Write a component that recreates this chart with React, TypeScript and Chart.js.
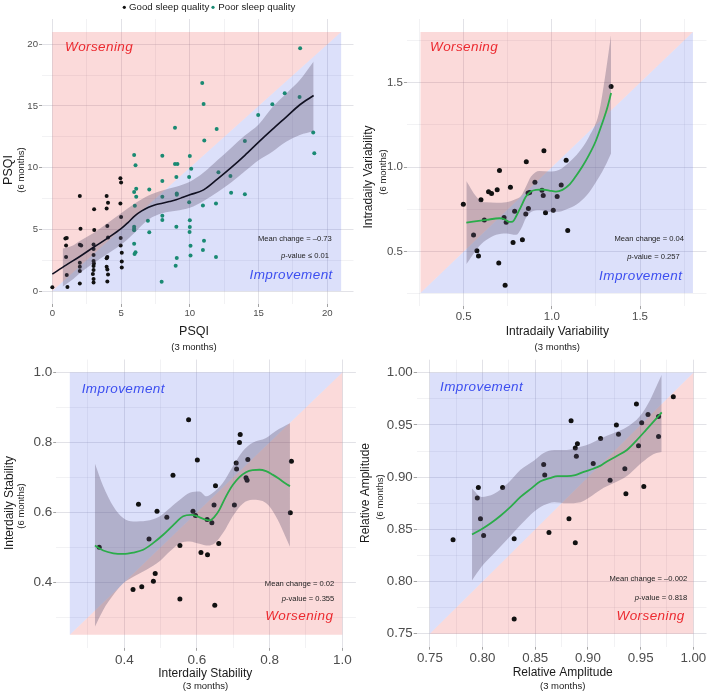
import React, { useEffect, useRef } from "react";
import { Chart, registerables } from "chart.js";
Chart.register(...registerables);

const FONT = "'Liberation Sans', Arial, Helvetica, sans-serif";

// ---------------- Panel A: PSQI ----------------
const psqiGood3m = [0, 0.95, 1.05, 1, 1, 1.05, 1.1, 2, 2.05, 2, 2.1, 2, 2, 2, 2, 3.04, 3.05, 3, 3, 3, 3, 3.02, 3, 3, 2.95, 3, 3, 3.95, 4.05, 3.95, 4, 4.05, 4, 3.95, 3.95, 4, 4.05, 4, 4.95, 5, 4.95, 5, 4.97, 4.97, 5.05, 5.05, 5.05];
const psqiGood6m = [0.3, 4.25, 4.3, 3.7, 2.75, 1.3, 0.32, 7.7, 5.05, 3.75, 3.7, 2.3, 1.97, 1.62, 0.62, 6.62, 4.95, 3.78, 3.4, 2.92, 2.43, 2.24, 2.03, 1.7, 1.38, 0.97, 0.7, 7.7, 7.15, 6.7, 5.27, 4.35, 2.75, 2.65, 1.97, 1.75, 1.35, 0.78, 9.15, 8.8, 7.1, 6.0, 4.3, 3.7, 3.1, 2.4, 1.9];
const psqiPoor3m = [5.95, 6.05, 6.1, 5.95, 6.1, 6, 5.95, 5.95, 5.95, 5.95, 6.05, 5.98, 7.05, 6.95, 7.05, 8, 8, 8, 8, 8, 7.95, 8.92, 8.92, 9.1, 9.02, 9.05, 9.05, 9.02, 9.05, 8.97, 10, 10.1, 9.95, 9.95, 10, 10, 9.98, 10.05, 10.05, 10.9, 11, 11.05, 10.95, 11.03, 10.95, 11.95, 12.08, 11.9, 11.9, 12.95, 13, 14, 14, 14.97, 16, 16.9, 18.02, 17.98, 18.97, 19.05];
const psqiPoor6m = [11.03, 10.2, 8.3, 8.03, 7.65, 6.92, 5.22, 5.05, 4.92, 3.84, 3.14, 3.0, 8.24, 5.7, 4.76, 10.97, 8.92, 7.65, 6.1, 5.76, 0.76, 13.24, 10.3, 10.3, 9.24, 7.9, 7.8, 5.22, 2.68, 2.05, 10.95, 9.92, 9.24, 7.19, 5.73, 5.19, 4.78, 3.68, 2.89, 16.86, 15.17, 12.2, 6.93, 4.08, 3.33, 13.14, 9.62, 7.1, 2.76, 9.33, 7.96, 12.16, 7.84, 14.27, 15.14, 16.03, 19.68, 15.72, 12.86, 11.16];
const psqiFitX = [0, 1, 2, 3, 4, 5, 5.5, 6, 6.5, 7, 7.5, 8, 8.5, 9, 9.5, 10, 11, 12, 13, 14, 15, 16, 17, 18, 19];
const psqiFitY = [1.37, 2.1, 2.8, 3.55, 4.27, 5.05, 5.55, 6.1, 6.5, 6.8, 7.0, 7.12, 7.25, 7.4, 7.6, 7.8, 8.2, 9.07, 10.0, 11.0, 12.07, 13.1, 14.1, 15.1, 15.85];
const psqiBandX = [0.75, 1.5, 2, 3, 4, 5, 6, 7, 8, 9, 10, 11, 12, 13, 14, 15, 16, 17, 18, 19];
const psqiBandHigh = [3.45, 3.7, 4.05, 4.7, 5.5, 6.3, 7.1, 7.75, 8.15, 8.45, 8.85, 9.6, 10.6, 11.6, 12.6, 13.5, 14.9, 16.0, 17.1, 18.6];
const psqiBandLow = [0.35, 0.95, 1.45, 2.25, 3.0, 3.75, 4.75, 5.8, 6.3, 6.5, 6.75, 7.3, 8.0, 8.8, 9.7, 10.6, 11.3, 12.1, 12.65, 12.95];
const psqiLimits = [0, 21];
const psqiTicks = [0, 5, 10, 15, 20];
const psqiTickLabels = ["0", "5", "10", "15", "20"];
const psqiMinor = [2.5, 7.5, 12.5, 17.5];

// ---------------- Panel B: Intradaily variability ----------------
const iv3m = [0.498, 0.556, 0.575, 0.584, 0.598, 0.617, 0.641, 0.658, 0.69, 0.699, 0.703, 0.729, 0.735, 0.741, 0.765, 0.78, 0.789, 0.833, 0.852, 0.855, 0.865, 0.874, 0.867, 0.904, 0.944, 0.951, 0.955, 0.964, 1.008, 1.03, 1.053, 1.081, 1.09, 1.336];
const iv6m = [0.781, 0.599, 0.506, 0.474, 0.808, 0.688, 0.854, 0.844, 0.866, 0.433, 0.98, 0.702, 0.302, 0.674, 0.881, 0.555, 0.739, 0.571, 0.723, 1.032, 0.848, 0.85, 0.755, 0.911, 0.864, 0.832, 1.097, 0.731, 0.745, 0.826, 0.895, 1.041, 0.625, 1.478];
const ivFitX = [0.515, 0.628, 0.703, 0.731, 0.759, 0.778, 0.797, 0.825, 0.853, 0.882, 0.91, 0.947, 0.985, 1.023, 1.06, 1.098, 1.135, 1.173, 1.211, 1.248, 1.286, 1.314, 1.336];
const ivFitY = [0.672, 0.688, 0.698, 0.692, 0.676, 0.678, 0.708, 0.767, 0.826, 0.856, 0.866, 0.868, 0.862, 0.856, 0.866, 0.895, 0.945, 1.004, 1.073, 1.152, 1.261, 1.35, 1.439];
const ivBandX = [0.515, 0.571, 0.6, 0.628, 0.684, 0.741, 0.797, 0.825, 0.853, 0.882, 0.929, 0.985, 1.042, 1.098, 1.154, 1.211, 1.267, 1.304, 1.336];
const ivBandHigh = [0.919, 0.826, 0.796, 0.792, 0.79, 0.793, 0.812, 0.83, 0.885, 0.945, 0.978, 0.975, 0.985, 1.03, 1.09, 1.18, 1.32, 1.55, 1.785];
const ivBandLow = [0.425, 0.51, 0.545, 0.569, 0.6, 0.608, 0.6, 0.635, 0.7, 0.735, 0.745, 0.735, 0.737, 0.757, 0.79, 0.85, 0.94, 1.01, 1.083];
const ivLimits = [0.255, 1.8];
const ivTicks = [0.5, 1.0, 1.5];
const ivTickLabels = ["0.5", "1.0", "1.5"];
const ivMinor = [0.25, 0.75, 1.25, 1.75];

// ---------------- Panel C: Interdaily stability ----------------
const is3m = [0.331, 0.424, 0.439, 0.448, 0.468, 0.48, 0.485, 0.49, 0.517, 0.534, 0.553, 0.553, 0.577, 0.589, 0.596, 0.601, 0.611, 0.629, 0.628, 0.641, 0.647, 0.651, 0.649, 0.66, 0.703, 0.708, 0.709, 0.717, 0.719, 0.735, 0.738, 0.74, 0.86, 0.857];
const is6m = [0.5, 0.379, 0.623, 0.387, 0.524, 0.403, 0.425, 0.603, 0.586, 0.706, 0.505, 0.352, 0.865, 0.603, 0.591, 0.75, 0.485, 0.479, 0.58, 0.57, 0.621, 0.676, 0.334, 0.511, 0.621, 0.741, 0.724, 0.8, 0.823, 0.699, 0.692, 0.751, 0.746, 0.599];
const isFitX = [0.319, 0.342, 0.37, 0.397, 0.425, 0.452, 0.479, 0.507, 0.534, 0.562, 0.584, 0.598, 0.616, 0.635, 0.648, 0.662, 0.68, 0.699, 0.717, 0.735, 0.753, 0.772, 0.79, 0.808, 0.826, 0.845, 0.856];
const isFitY = [0.505, 0.491, 0.483, 0.481, 0.485, 0.493, 0.512, 0.536, 0.563, 0.589, 0.593, 0.59, 0.582, 0.577, 0.587, 0.608, 0.646, 0.679, 0.701, 0.715, 0.721, 0.722, 0.718, 0.708, 0.696, 0.682, 0.675];
const isBandX = [0.319, 0.342, 0.37, 0.397, 0.425, 0.461, 0.498, 0.525, 0.553, 0.58, 0.607, 0.626, 0.644, 0.671, 0.699, 0.726, 0.753, 0.79, 0.817, 0.856];
const isBandHigh = [0.74, 0.675, 0.617, 0.584, 0.574, 0.576, 0.589, 0.612, 0.636, 0.656, 0.66, 0.646, 0.656, 0.684, 0.732, 0.775, 0.799, 0.813, 0.833, 0.855];
const isBandLow = [0.273, 0.321, 0.364, 0.397, 0.416, 0.436, 0.461, 0.488, 0.512, 0.517, 0.51, 0.505, 0.508, 0.54, 0.59, 0.625, 0.636, 0.627, 0.589, 0.502];
const isLimits = [0.25, 1.0];
const isTicks = [0.4, 0.6, 0.8, 1.0];
const isTickLabels = ["0.4", "0.6", "0.8", "1.0"];
const isMinor = [0.3, 0.5, 0.7, 0.9];

// ---------------- Panel D: Relative amplitude ----------------
const ra3m = [0.772, 0.795, 0.796, 0.798, 0.801, 0.819, 0.83, 0.83, 0.858, 0.859, 0.863, 0.882, 0.884, 0.888, 0.888, 0.89, 0.889, 0.905, 0.912, 0.921, 0.927, 0.929, 0.935, 0.936, 0.946, 0.948, 0.951, 0.953, 0.957, 0.967, 0.967, 0.981];
const ra6m = [0.84, 0.88, 0.89, 0.86, 0.844, 0.89, 0.841, 0.764, 0.912, 0.902, 0.847, 0.86, 0.954, 0.837, 0.928, 0.932, 0.92, 0.913, 0.937, 0.897, 0.95, 0.941, 0.908, 0.884, 0.97, 0.93, 0.952, 0.891, 0.96, 0.939, 0.958, 0.977];
const raFitX = [0.79, 0.799, 0.808, 0.817, 0.827, 0.836, 0.846, 0.855, 0.864, 0.871, 0.88, 0.888, 0.896, 0.905, 0.912, 0.918, 0.927, 0.937, 0.946, 0.955, 0.962, 0.97];
const raFitY = [0.845, 0.85, 0.856, 0.863, 0.872, 0.881, 0.889, 0.896, 0.899, 0.901, 0.901, 0.902, 0.905, 0.908, 0.911, 0.915, 0.92, 0.926, 0.935, 0.945, 0.953, 0.962];
const raBandX = [0.79, 0.799, 0.811, 0.824, 0.836, 0.849, 0.858, 0.868, 0.88, 0.893, 0.902, 0.912, 0.924, 0.937, 0.949, 0.959, 0.965, 0.97];
const raBandHigh = [0.889, 0.881, 0.884, 0.894, 0.907, 0.916, 0.923, 0.926, 0.926, 0.929, 0.932, 0.937, 0.942, 0.948, 0.958, 0.974, 0.987, 0.998];
const raBandLow = [0.801, 0.814, 0.827, 0.841, 0.854, 0.867, 0.873, 0.876, 0.875, 0.876, 0.881, 0.888, 0.894, 0.901, 0.912, 0.92, 0.923, 0.924];
const raLimits = [0.75, 1.0];
const raTicks = [0.75, 0.8, 0.85, 0.9, 0.95, 1.0];
const raTickLabels = ["0.75", "0.80", "0.85", "0.90", "0.95", "1.00"];
const raMinor = [0.775, 0.825, 0.875, 0.925, 0.975];

// ---------------- styles ----------------
const PINK = "rgba(236,72,72,0.2)";
const BLUE = "rgba(70,90,230,0.19)";
const BAND = "rgba(92,80,110,0.33)";
const BLACK = "#111111";
const TEAL = "#1a8a73";
const GREEN = "#2bac4a";
const RED_TXT = "#ec2a30";
const BLUE_TXT = "#3d4ff0";
const GRID_MAJOR = "rgba(160,160,175,0.30)";
const GRID_MINOR = "rgba(160,160,175,0.20)";

type Group = { x: number[]; y: number[]; color: string; r: number };
type TextItem = {
  t?: string; x: number; y: number; size?: number; color?: string;
  align?: CanvasTextAlign; rot?: boolean; italic?: boolean; spacing?: number;
  pval?: boolean; dot?: number;
};
interface PanelSpec {
  area: [number, number, number, number];
  xr: [number, number]; yr: [number, number];
  xMajor: number[]; xLabels: string[]; xMinor: number[];
  yMajor: number[]; yLabels: string[]; yMinor: number[];
  tickSize: number;
  limits: number[];
  upperLeft: string; lowerRight: string;
  groups: Group[];
  fitX: number[]; fitY: number[]; fitColor: string; fitWidth: number;
  bandX: number[]; bandLow: number[]; bandHigh: number[];
  texts: TextItem[];
}

const PANELS: PanelSpec[] = [
  {
    area: [42, 19, 353.5, 304], xr: [-0.75, 21.9], yr: [-1.05, 22.05],
    xMajor: psqiTicks, xLabels: psqiTickLabels, xMinor: psqiMinor,
    yMajor: psqiTicks, yLabels: psqiTickLabels, yMinor: psqiMinor,
    tickSize: 9.6, limits: psqiLimits, upperLeft: PINK, lowerRight: BLUE,
    groups: [
      { x: psqiGood3m, y: psqiGood6m, color: BLACK, r: 2.0 },
      { x: psqiPoor3m, y: psqiPoor6m, color: TEAL, r: 2.0 },
    ],
    fitX: psqiFitX, fitY: psqiFitY, fitColor: "#111122", fitWidth: 1.6,
    bandX: psqiBandX, bandLow: psqiBandLow, bandHigh: psqiBandHigh,
    texts: [
      { dot: 1.6, x: 124.3, y: 7.3, color: BLACK },
      { t: "Good sleep quality", x: 129, y: 7.3, size: 9.7, align: "left", color: "#222" },
      { dot: 1.6, x: 213, y: 7.3, color: TEAL },
      { t: "Poor sleep quality", x: 218.3, y: 7.3, size: 9.7, align: "left", color: "#222" },
      { t: "PSQI", x: 194, y: 332, size: 12.5 },
      { t: "(3 months)", x: 194, y: 347.5, size: 9.5 },
      { t: "PSQI", x: 9, y: 170, size: 12.5, rot: true },
      { t: "(6 months)", x: 21, y: 170, size: 9.5, rot: true },
      { t: "Worsening", x: 65, y: 47.3, size: 13.5, italic: true, spacing: 0.4, color: RED_TXT, align: "left" },
      { t: "Improvement", x: 332.7, y: 275.7, size: 13.5, italic: true, spacing: 0.4, color: BLUE_TXT, align: "right" },
      { t: "Mean change = \u20130.73", x: 331.7, y: 239, size: 7.6, align: "right", color: "#222" },
      { t: "-value \u2264 0.01", x: 329, y: 256, size: 7.6, pval: true, color: "#222" },
    ],
  },
  {
    area: [406.9, 19, 708.1, 306.1], xr: [0.178, 1.877], yr: [0.178, 1.877],
    xMajor: ivTicks, xLabels: ivTickLabels, xMinor: ivMinor,
    yMajor: ivTicks, yLabels: ivTickLabels, yMinor: ivMinor,
    tickSize: 11.5, limits: ivLimits, upperLeft: PINK, lowerRight: BLUE,
    groups: [{ x: iv3m, y: iv6m, color: BLACK, r: 2.5 }],
    fitX: ivFitX, fitY: ivFitY, fitColor: GREEN, fitWidth: 1.8,
    bandX: ivBandX, bandLow: ivBandLow, bandHigh: ivBandHigh,
    texts: [
      { t: "Intradaily Variability", x: 557.3, y: 332, size: 12 },
      { t: "(3 months)", x: 557.3, y: 347.5, size: 9.5 },
      { t: "Intradaily Variability", x: 369, y: 177, size: 12, rot: true },
      { t: "(6 months)", x: 383, y: 172, size: 9.5, rot: true },
      { t: "Worsening", x: 430, y: 47.7, size: 13.5, italic: true, spacing: 0.4, color: RED_TXT, align: "left" },
      { t: "Improvement", x: 682.3, y: 276.7, size: 13.5, italic: true, spacing: 0.4, color: BLUE_TXT, align: "right" },
      { t: "Mean change = 0.04", x: 684, y: 239.3, size: 7.6, align: "right", color: "#222" },
      { t: "-value = 0.257", x: 679.7, y: 256.7, size: 7.6, pval: true, color: "#222" },
    ],
  },
  {
    area: [56.2, 359.5, 355.9, 647.8], xr: [0.2125, 1.0375], yr: [0.2125, 1.0375],
    xMajor: isTicks, xLabels: isTickLabels, xMinor: isMinor,
    yMajor: isTicks, yLabels: isTickLabels, yMinor: isMinor,
    tickSize: 13.5, limits: isLimits, upperLeft: BLUE, lowerRight: PINK,
    groups: [{ x: is3m, y: is6m, color: BLACK, r: 2.5 }],
    fitX: isFitX, fitY: isFitY, fitColor: GREEN, fitWidth: 1.8,
    bandX: isBandX, bandLow: isBandLow, bandHigh: isBandHigh,
    texts: [
      { t: "Interdaily Stability", x: 205.3, y: 673.3, size: 12 },
      { t: "(3 months)", x: 205.5, y: 686.7, size: 9.5 },
      { t: "Interdaily Stability", x: 10, y: 503, size: 12, rot: true },
      { t: "(6 months)", x: 21, y: 506, size: 9.5, rot: true },
      { t: "Improvement", x: 81.7, y: 389.3, size: 13.5, italic: true, spacing: 0.4, color: BLUE_TXT, align: "left" },
      { t: "Worsening", x: 333.3, y: 616.7, size: 13.5, italic: true, spacing: 0.4, color: RED_TXT, align: "right" },
      { t: "Mean change = 0.02", x: 334.3, y: 584.3, size: 7.6, align: "right", color: "#222" },
      { t: "-value = 0.355", x: 334.3, y: 598.7, size: 7.6, pval: true, color: "#222" },
    ],
  },
  {
    area: [416.7, 359.7, 709, 646.7], xr: [0.7375, 1.0125], yr: [0.7375, 1.0125],
    xMajor: raTicks, xLabels: raTickLabels, xMinor: raMinor,
    yMajor: raTicks, yLabels: raTickLabels, yMinor: raMinor,
    tickSize: 13.3, limits: raLimits, upperLeft: BLUE, lowerRight: PINK,
    groups: [{ x: ra3m, y: ra6m, color: BLACK, r: 2.5 }],
    fitX: raFitX, fitY: raFitY, fitColor: GREEN, fitWidth: 1.8,
    bandX: raBandX, bandLow: raBandLow, bandHigh: raBandHigh,
    texts: [
      { t: "Relative Amplitude", x: 562.7, y: 673, size: 12 },
      { t: "(3 months)", x: 562.7, y: 686, size: 9.5 },
      { t: "Relative Amplitude", x: 365.7, y: 493, size: 12, rot: true },
      { t: "(6 months)", x: 380.7, y: 497, size: 9.5, rot: true },
      { t: "Improvement", x: 440, y: 387.7, size: 13.5, italic: true, spacing: 0.4, color: BLUE_TXT, align: "left" },
      { t: "Worsening", x: 684.7, y: 616, size: 13.5, italic: true, spacing: 0.4, color: RED_TXT, align: "right" },
      { t: "Mean change = \u20130.002", x: 687.3, y: 579.3, size: 7.6, align: "right", color: "#222" },
      { t: "-value = 0.818", x: 687.3, y: 598.3, size: 7.6, pval: true, color: "#222" },
    ],
  },
];

const CW = 709, CH = 695, YW = 40, XH = 24;

function textPlugin(items: TextItem[]) {
  return {
    id: "panelText",
    afterDraw(chart: any) {
      const ctx: CanvasRenderingContext2D = chart.ctx;
      for (const it of items) {
        ctx.save();
        ctx.fillStyle = it.color || "#1a1a1a";
        if (it.dot) {
          ctx.beginPath();
          ctx.arc(it.x, it.y, it.dot, 0, Math.PI * 2);
          ctx.fill();
          ctx.restore();
          continue;
        }
        const size = it.size || 10;
        ctx.font = `${it.italic ? "italic " : ""}${size}px ${FONT}`;
        ctx.textBaseline = "middle";
        ctx.textAlign = it.align || "center";
        if (it.spacing) (ctx as any).letterSpacing = it.spacing + "px";
        if (it.rot) {
          ctx.translate(it.x, it.y);
          ctx.rotate(-Math.PI / 2);
          ctx.fillText(it.t || "", 0, 0);
        } else if (it.pval) {
          ctx.textAlign = "left";
          const rest = it.t || "";
          const wRest = ctx.measureText(rest).width;
          ctx.font = `italic ${size}px ${FONT}`;
          const wp = ctx.measureText("p").width;
          ctx.fillText("p", it.x - wRest - wp, it.y);
          ctx.font = `${size}px ${FONT}`;
          ctx.fillText(rest, it.x - wRest, it.y);
        } else {
          ctx.fillText(it.t || "", it.x, it.y);
        }
        ctx.restore();
      }
    },
  };
}

function makeScale(horizontal: boolean, range: [number, number], majors: number[], labels: string[], minors: number[], size: number) {
  const isMajor = (v: any) => majors.indexOf(v) >= 0;
  return {
    type: "linear",
    position: horizontal ? "bottom" : "left",
    min: range[0],
    max: range[1],
    afterBuildTicks: (s: any) => {
      s.ticks = [...majors, ...minors].sort((a, b) => a - b).map((v) => ({ value: v }));
    },
    afterFit: (s: any) => {
      if (horizontal) s.height = XH;
      else s.width = YW;
    },
    ticks: {
      autoSkip: false,
      maxRotation: 0,
      minRotation: 0,
      padding: 1,
      color: "#4d4d4d",
      font: { family: FONT, size },
      callback: (v: any) => {
        const i = majors.indexOf(v);
        return i >= 0 ? labels[i] : "";
      },
    },
    grid: {
      color: (c: any) => (c.tick && isMajor(c.tick.value) ? GRID_MAJOR : GRID_MINOR),
      lineWidth: (c: any) => (c.tick && isMajor(c.tick.value) ? 1 : 0.7),
      drawTicks: true,
      tickLength: 3,
      tickWidth: 0.8,
      tickColor: (c: any) => (c.tick && isMajor(c.tick.value) ? "#8a8a8a" : "rgba(0,0,0,0)"),
    },
    border: { display: false },
  };
}

function buildConfig(p: PanelSpec): any {
  const [L, T, R, B] = p.area;
  const [lo, hi] = p.limits;
  const datasets: any[] = [];
  datasets.push({
    type: "line", data: [{ x: lo, y: lo }, { x: lo, y: hi }, { x: hi, y: hi }],
    fill: "shape", backgroundColor: p.upperLeft, borderWidth: 0, pointRadius: 0, order: 10,
  });
  datasets.push({
    type: "line", data: [{ x: lo, y: lo }, { x: hi, y: lo }, { x: hi, y: hi }],
    fill: "shape", backgroundColor: p.lowerRight, borderWidth: 0, pointRadius: 0, order: 10,
  });
  for (const g of p.groups) {
    datasets.push({
      type: "scatter", data: g.x.map((x, i) => ({ x, y: g.y[i] })),
      backgroundColor: g.color, borderWidth: 0, pointRadius: g.r, pointHoverRadius: g.r, order: 5,
    });
  }
  const lowIdx = datasets.length;
  datasets.push({
    type: "line", data: p.bandX.map((x, i) => ({ x, y: p.bandLow[i] })),
    borderWidth: 0, pointRadius: 0, fill: false, cubicInterpolationMode: "monotone", order: 3,
  });
  datasets.push({
    type: "line", data: p.bandX.map((x, i) => ({ x, y: p.bandHigh[i] })),
    borderWidth: 0, pointRadius: 0, fill: lowIdx, backgroundColor: BAND, cubicInterpolationMode: "monotone", order: 2,
  });
  datasets.push({
    type: "line", data: p.fitX.map((x, i) => ({ x, y: p.fitY[i] })),
    borderColor: p.fitColor, borderWidth: p.fitWidth, pointRadius: 0, fill: false,
    cubicInterpolationMode: "monotone", order: 1,
  });
  return {
    type: "scatter",
    data: { datasets },
    options: {
      responsive: false,
      animation: false,
      events: [],
      layout: { padding: { left: L - YW, top: T, right: CW - R, bottom: CH - B - XH } },
      plugins: { legend: { display: false }, tooltip: { enabled: false }, title: { display: false } },
      scales: {
        x: makeScale(true, p.xr, p.xMajor, p.xLabels, p.xMinor, p.tickSize),
        y: makeScale(false, p.yr, p.yMajor, p.yLabels, p.yMinor, p.tickSize),
      },
    },
    plugins: [textPlugin(p.texts)],
  };
}

function PanelCanvas({ spec }: { spec: PanelSpec }) {
  const ref = useRef<HTMLCanvasElement>(null);
  useEffect(() => {
    const chart = new Chart(ref.current as HTMLCanvasElement, buildConfig(spec));
    return () => chart.destroy();
  }, [spec]);
  return (
    <canvas
      ref={ref}
      width={CW}
      height={CH}
      style={{ position: "absolute", left: 0, top: 0, width: CW, height: CH }}
    />
  );
}

export default function App() {
  return (
    <div style={{ position: "absolute", left: 0, top: 0, width: CW, height: CH, background: "#ffffff", overflow: "hidden" }}>
      {PANELS.map((s, i) => (
        <PanelCanvas key={i} spec={s} />
      ))}
    </div>
  );
}
